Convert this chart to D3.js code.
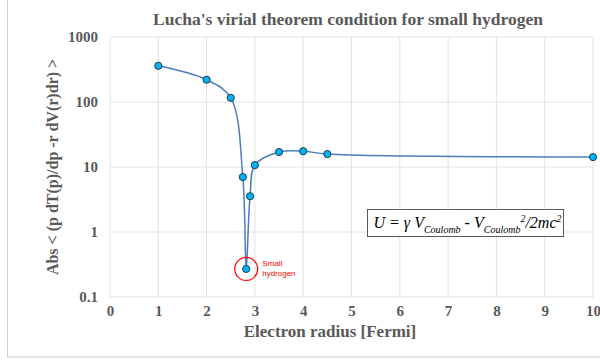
<!DOCTYPE html>
<html lang="en">
<head>
<meta charset="UTF-8">
<title>Lucha's virial theorem condition</title>
<style>
  body { margin: 0; background: #fff; }
  .grid line { stroke: #e2e2e2; stroke-width: 1; }
  .title { font: bold 17.5px "Liberation Serif", serif; fill: #595959; }
  .axis-title { font: bold 17px "Liberation Serif", serif; fill: #595959; }
</style>
</head>
<body>
<div id="chart"></div>
<script src="https://cdn.jsdelivr.net/npm/d3@7"></script>
<script>
// data
const radius = [1, 2, 2.5, 2.75, 2.82, 2.9, 3.0, 3.5, 4, 4.5, 10];
const virial = [360, 220, 116, 7.0, 0.27, 3.55, 10.7, 17, 17.5, 15.8, 14.2];
const xTicks = [0, 1, 2, 3, 4, 5, 6, 7, 8, 9, 10];
const yTicks = [0.1, 1, 10, 100, 1000];

const width = 600, height = 361;
const margin = {left: 110, right: 7, top: 37, bottom: 64};

const svg = d3.select("#chart").append("svg")
  .attr("width", width)
  .attr("height", height);

// outer chart frame
svg.append("rect")
  .attr("x", 7.5).attr("y", -5)
  .attr("width", 610).attr("height", 362)
  .attr("fill", "none")
  .attr("stroke", "#d0d0d0");

const x = d3.scaleLinear().domain([0, 10]).range([margin.left, width - margin.right]);
const y = d3.scaleLog().domain([0.1, 1000]).range([height - margin.bottom, margin.top]);

// gridlines
svg.append("g").attr("class", "grid")
  .selectAll("line").data(xTicks).join("line")
  .attr("x1", d => x(d)).attr("x2", d => x(d))
  .attr("y1", y(0.1)).attr("y2", y(1000));
svg.append("g").attr("class", "grid")
  .selectAll("line").data(yTicks).join("line")
  .attr("x1", x(0)).attr("x2", x(10))
  .attr("y1", d => y(d)).attr("y2", d => y(d));

// axes (labels only)
const xAxis = svg.append("g")
  .attr("transform", `translate(0,${y(0.1)})`)
  .call(d3.axisBottom(x).tickValues(xTicks).tickSize(0).tickPadding(8));

const yAxis = svg.append("g")
  .attr("transform", `translate(${x(0)},0)`)
  .call(d3.axisLeft(y).tickValues(yTicks).tickSize(0).tickPadding(12)
    .tickFormat(d => d < 1 ? "0.1" : d3.format("d")(d)));

[xAxis, yAxis].forEach(a => {
  a.select(".domain").remove();
  a.attr("font-family", "Liberation Serif")
    .attr("font-size", 15)
    .attr("font-weight", "bold");
  a.selectAll(".tick text").attr("fill", "#595959");
});

// titles
svg.append("text").attr("class", "title")
  .attr("x", 348).attr("y", 25)
  .attr("text-anchor", "middle")
  .text("Lucha's virial theorem condition for small hydrogen");

svg.append("text").attr("class", "axis-title")
  .attr("x", 330).attr("y", 337)
  .attr("text-anchor", "middle")
  .text("Electron radius [Fermi]");

svg.append("text").attr("class", "axis-title")
  .style("font-size", "16px")
  .attr("transform", `translate(58,${(y(0.1) + y(1000)) / 2}) rotate(-90)`)
  .attr("text-anchor", "middle")
  .text("Abs < (p dT(p)/dp -r dV(r)dr) >");

// series
const pts = radius.map((r, i) => [r, virial[i]]);
const line = d3.line()
  .x(d => x(d[0]))
  .y(d => y(d[1]))
  .curve(d3.curveCatmullRom.alpha(0.5));

svg.append("path")
  .datum(pts)
  .attr("d", line)
  .attr("fill", "none")
  .attr("stroke", "#4a7ebb")
  .attr("stroke-width", 1.5);

svg.append("g").selectAll("circle").data(pts).join("circle")
  .attr("cx", d => x(d[0]))
  .attr("cy", d => y(d[1]))
  .attr("r", 3.6)
  .attr("fill", "#00b4ef")
  .attr("stroke", "#1f3a5a")
  .attr("stroke-width", 1);

// annotation for the minimum
const low = pts[4];
svg.append("circle")
  .attr("cx", x(low[0])).attr("cy", y(low[1]))
  .attr("r", 11.5)
  .attr("fill", "none")
  .attr("stroke", "#ff0000")
  .attr("stroke-width", 1.2);
svg.append("text")
  .attr("x", x(low[0]) + 16).attr("y", y(low[1]) - 3)
  .attr("fill", "#ff0000")
  .style("font", "8px 'Liberation Sans', sans-serif")
  .selectAll("tspan").data(["Small", "hydrogen"]).join("tspan")
  .attr("x", x(low[0]) + 16)
  .attr("dy", (d, i) => i ? 10 : 0)
  .text(d => d);

// formula box
const box = svg.append("g").attr("transform", "translate(367.5,209.5)");
box.append("rect")
  .attr("width", 196).attr("height", 27)
  .attr("fill", "#fff")
  .attr("stroke", "#595959");
const eq = box.append("text")
  .attr("x", 6).attr("y", 18)
  .style("font", "italic 16px 'Liberation Serif', serif")
  .attr("fill", "#000");
eq.append("tspan").text("U = \u03b3 V");
eq.append("tspan").attr("dy", 5).style("font-size", "10px").text("Coulomb");
eq.append("tspan").attr("dy", -5).text("  - V");
eq.append("tspan").attr("dy", 5).style("font-size", "10px").text("Coulomb");
eq.append("tspan").attr("dy", -11).style("font-size", "10px").text("2");
eq.append("tspan").attr("dy", 6).text("/2mc");
eq.append("tspan").attr("dy", -6).style("font-size", "10px").text("2");
</script>
</body>
</html>
